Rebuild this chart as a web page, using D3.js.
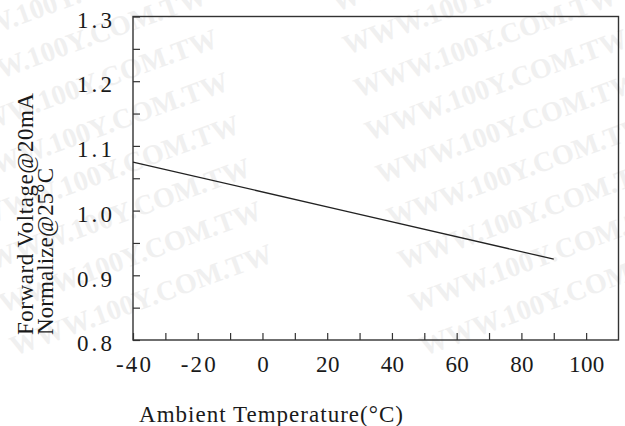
<!DOCTYPE html>
<html>
<head>
<meta charset="utf-8">
<script src="https://cdn.jsdelivr.net/npm/d3@7"></script>
<style>
  body { margin: 0; background: #fff; }
</style>
</head>
<body>
<div id="chart"></div>
<script>
// values
let tempValues = [-40, 25, 90];
let voltageValues = [1.075, 1.0, 0.925];

let xTicks = [-40, -30, -20, -10, 0, 10, 20, 30, 40, 50, 60, 70, 80, 90, 100];
let xTickLabels = ["-40", "-20", "0", "20", "40", "60", "80", "100"];
let yTicks = [0.8, 0.85, 0.9, 0.95, 1.0, 1.05, 1.1, 1.15, 1.2, 1.25, 1.3];
let yTickLabels = ["0.8", "0.9", "1.0", "1.1", "1.2", "1.3"];

let xTitle = "Ambient Temperature(°C)";
let yTitle1 = "Forward Voltage@20mA";
let yTitle2 = "Normalize@25°C";
let watermark = "WWW.100Y.COM.TW";

let W = 625, H = 426;
let plot = {left: 133, right: 618.5, top: 16.5, bottom: 340};
let charW = 11.7;
let serif = "'Liberation Serif', 'Times New Roman', serif";

let svg = d3.select("#chart").append("svg")
    .attr("width", W)
    .attr("height", H);

// faint watermark rows behind the chart
let wm = svg.append("g").attr("class", "watermark");
let rows = d3.range(-1, 8);
[3, 413].forEach(function(x0){
    rows.forEach(function(k){
        let px = x0 - 11 * k, py = 313 - 43 * k;
        wm.append("text")
            .attr("transform", "translate(" + px + "," + py + ") rotate(-20)")
            .style("font-family", serif)
            .style("font-size", "28px")
            .style("font-weight", "bold")
            .style("fill", "#f0f0f0")
            .text(watermark);
    });
});

let x = d3.scaleLinear()
    .domain([-40, 110])
    .range([plot.left, plot.right]);

let y = d3.scaleLinear()
    .domain([0.8, 1.3])
    .range([plot.bottom, plot.top]);

let xAxis = d3.axisBottom(x)
    .tickValues(xTicks)
    .tickSizeInner(-7)
    .tickSizeOuter(0)
    .tickFormat(function(d){
        let s = String(d);
        return xTickLabels.indexOf(s) >= 0 ? s : "";
    });

let yAxis = d3.axisLeft(y)
    .tickValues(yTicks)
    .tickSizeInner(-7)
    .tickSizeOuter(0)
    .tickFormat(function(d){
        let s = d3.format(".1f")(d);
        return yTickLabels.indexOf(s) >= 0 && Math.abs(d * 10 - Math.round(d * 10)) < 1e-6 ? s : "";
    });

let gx = svg.append("g")
    .attr("class", "x-axis")
    .attr("transform", "translate(0," + plot.bottom + ")")
    .call(xAxis);

let gy = svg.append("g")
    .attr("class", "y-axis")
    .attr("transform", "translate(" + plot.left + ",0)")
    .call(yAxis);

[gx, gy].forEach(function(g){
    g.select(".domain").remove();
    g.selectAll("line").style("stroke", "#333").style("stroke-width", 1.2);
    g.selectAll("text").filter(function(){ return this.textContent === ""; }).remove();
    g.selectAll("text")
        .style("font-family", serif)
        .style("font-size", "23px")
        .style("fill", "#1a1a1a")
        .each(function(){
            d3.select(this).attr("textLength", this.textContent.length * charW)
                .attr("lengthAdjust", "spacing");
        });
});

gx.selectAll("text").attr("y", 31.7).attr("dy", 0);
gy.selectAll("text").attr("x", -21).attr("dy", 10.7);

// plot frame
svg.append("rect")
    .attr("x", plot.left)
    .attr("y", plot.top)
    .attr("width", plot.right - plot.left)
    .attr("height", plot.bottom - plot.top)
    .style("fill", "none")
    .style("stroke", "#333")
    .style("stroke-width", 1.4);

let line = d3.line()
    .x(function(d, i){ return x(tempValues[i]); })
    .y(function(d){ return y(d); });

svg.append("path")
    .datum(voltageValues)
    .attr("class", "line")
    .attr("d", line)
    .style("fill", "none")
    .style("stroke", "#222")
    .style("stroke-width", 1.3);

// axis titles
function title(txt, tr, len){
    svg.append("text")
        .attr("transform", tr)
        .attr("textLength", len)
        .attr("lengthAdjust", "spacing")
        .style("font-family", serif)
        .style("font-size", "23px")
        .style("fill", "#1a1a1a")
        .text(txt);
}
title(xTitle, "translate(139,421.5)", 264);
title(yTitle1, "translate(33,335) rotate(-90)", 242);
title(yTitle2, "translate(53,335) rotate(-90)", 167);
</script>
</body>
</html>
